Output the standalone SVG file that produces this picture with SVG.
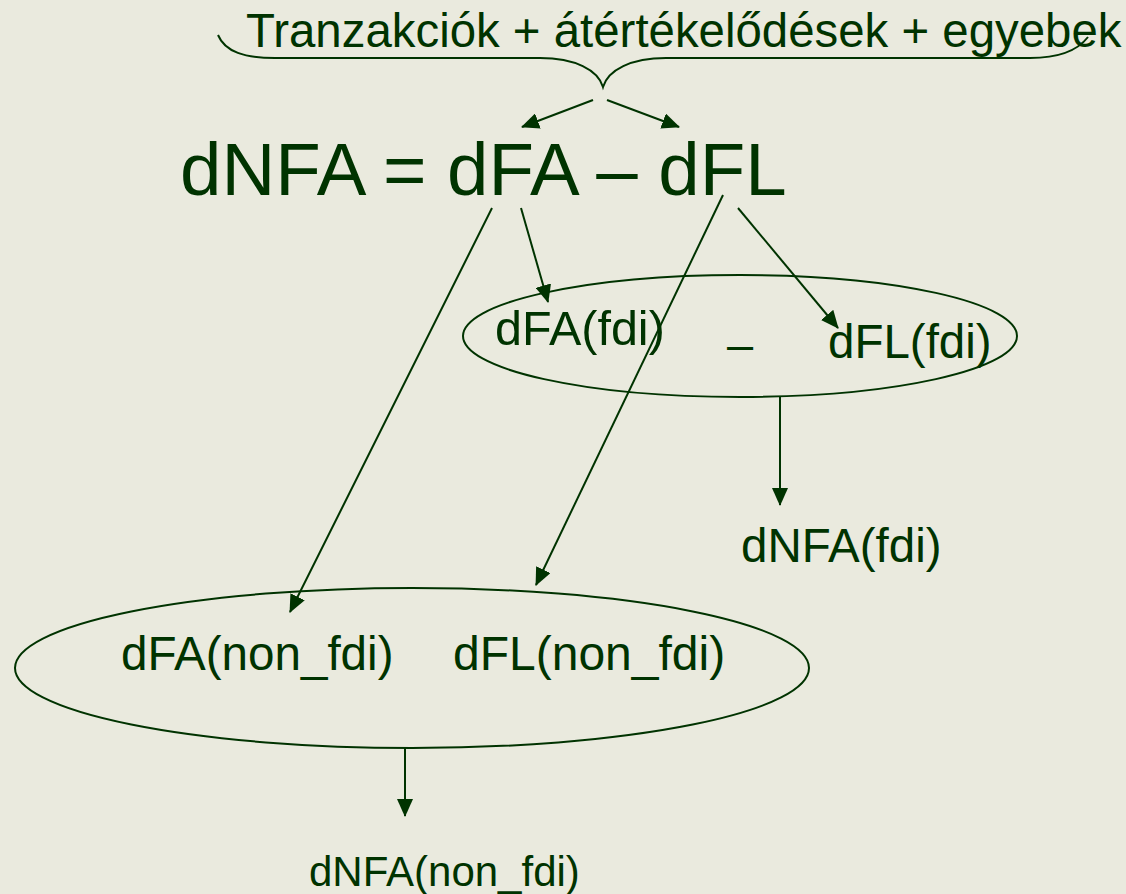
<svg xmlns="http://www.w3.org/2000/svg" width="1126" height="894" viewBox="0 0 1126 894">
  <style>
    .lbl { font-family: "Liberation Sans", Arial, sans-serif; fill: #003300; }
    .ln { stroke: #003300; stroke-width: 2; fill: none; }
  </style>
  <defs>
    <marker id="arrow" markerUnits="userSpaceOnUse" markerWidth="18" markerHeight="16" viewBox="0 0 18 16" refX="17" refY="8" orient="auto">
      <path d="M0,0 L18,8 L0,16 Z" fill="#003300"/>
    </marker>
  </defs>
  <rect x="0" y="0" width="1126" height="894" fill="#EAEADE"/>

  <!-- heading with brace -->
  <g id="header">
    <text class="lbl" x="246" y="47" font-size="47.4">Tranzakciók + átértékelődések + egyebek</text>
    <path class="ln" d="M 218 35 C 225 52, 245 58, 275 58 L 540 58 C 575 58, 598 70, 603 87 C 608 70, 631 58, 666 58 L 1030 58 C 1058 58, 1078 50, 1088 37"/>
  </g>

  <!-- main identity -->
  <g id="equation">
    <text class="lbl" x="180" y="195" font-size="74.5">dNFA = dFA – dFL</text>
  </g>

  <!-- fdi group -->
  <g id="fdi">
    <ellipse class="ln" cx="740" cy="336" rx="277" ry="61"/>
    <text class="lbl" x="495" y="345" font-size="48.5">dFA(fdi)</text>
    <text class="lbl" x="727" y="360" font-size="47">–</text>
    <text class="lbl" x="828" y="358" font-size="47.5">dFL(fdi)</text>
  </g>

  <g id="nfa-fdi">
    <text class="lbl" x="741" y="562" font-size="47.5">dNFA(fdi)</text>
  </g>

  <!-- non-fdi group -->
  <g id="non-fdi">
    <ellipse class="ln" cx="412" cy="668" rx="397" ry="80"/>
    <text class="lbl" x="121" y="670" font-size="47.6">dFA(non_fdi)</text>
    <text class="lbl" x="453" y="670" font-size="48">dFL(non_fdi)</text>
  </g>

  <g id="nfa-non-fdi">
    <text class="lbl" x="309" y="886" font-size="42">dNFA(non_fdi)</text>
  </g>

  <!-- connectors -->
  <g id="connectors" class="ln" marker-end="url(#arrow)">
    <line x1="593" y1="100" x2="522" y2="127"/>
    <line x1="607" y1="100" x2="679" y2="127"/>
    <line x1="492" y1="208" x2="290" y2="612"/>
    <line x1="521" y1="208" x2="548" y2="302"/>
    <line x1="723" y1="195" x2="536" y2="585"/>
    <line x1="738" y1="208" x2="838" y2="328"/>
    <line x1="780" y1="397" x2="780" y2="505"/>
    <line x1="405" y1="748" x2="405" y2="816"/>
  </g>
</svg>
